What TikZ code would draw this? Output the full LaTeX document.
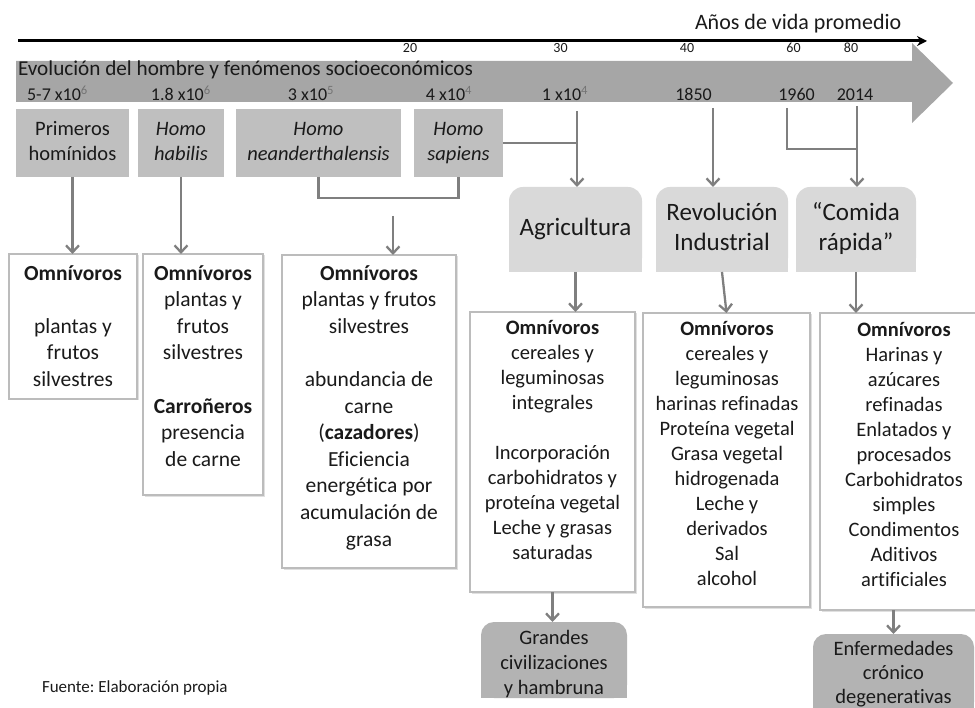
\documentclass[tikz,border=0pt]{standalone}
\usepackage{fontspec}
\setmainfont{Carlito}[Ligatures=NoCommon]
\frenchspacing
\usetikzlibrary{arrows.meta,shadows,backgrounds}
\definecolor{bandgray}{HTML}{A6A6A6}
\definecolor{topgray}{HTML}{BFBFBF}
\definecolor{midgray}{HTML}{D9D9D9}
\definecolor{botgray}{HTML}{B3B3B3}
\definecolor{arrgray}{HTML}{7F7F7F}
\definecolor{boxline}{HTML}{BCBCBC}
\definecolor{txt}{HTML}{1A1A1A}
\newcommand{\mysup}[1]{\textsuperscript{\color{black!55}#1}}
\tikzset{
  every node/.style={inner sep=0pt, outer sep=0pt, text=txt},
  fbody/.style={font=\fontsize{20.5}{25}\selectfont, align=center},
  fleft/.style={font=\fontsize{21.5}{26.6}\selectfont, align=center},
  fmid/.style={font=\fontsize{25}{30}\selectfont, align=center},
  fdate/.style={font=\fontsize{18}{22}\selectfont},
  fsmall/.style={font=\fontsize{14}{17}\selectfont},
  topbox/.style={fill=topgray, minimum height=68pt, fbody},
  midbox/.style={minimum height=85pt, fmid},
  wbox/.style={draw=boxline, line width=1.3pt, fill=white,
    drop shadow={shadow xshift=1.5pt, shadow yshift=-1.5pt, fill=black, opacity=0.12}},
  conn/.style={draw=arrgray, line width=2.3pt},
  arr/.style={conn, -{Straight Barb[length=7pt,width=13pt]}},
}
\begin{document}
\begin{tikzpicture}[x=1pt,y=-1pt]
\useasboundingbox (0,0) rectangle (975,708);
\clip (0,0) rectangle (975,708);

% top timeline arrow
\coordinate (ta) at (18,41);
\coordinate (tb) at (927,41);
\draw[line width=3pt, -{Stealth[length=10pt,width=10pt]}] (ta) -- (tb);
\node[anchor=base west, font=\fontsize{22}{26}\selectfont] (anos) at (695,30) {Años de vida promedio};
\node[fsmall, anchor=base] (n20) at (410,52.7) {20};
\node[fsmall, anchor=base] (n30) at (560.5,52.7) {30};
\node[fsmall, anchor=base] (n40) at (687,52.7) {40};
\node[fsmall, anchor=base] (n60) at (793.5,52.7) {60};
\node[fsmall, anchor=base] (n80) at (851,52.7) {80};

% gray band arrow
\fill[bandgray] (16,61) -- (912,61) -- (912,43) -- (953,83) -- (912,123) -- (912,102) -- (16,102) -- cycle;
\node[anchor=base west, font=\fontsize{21.2}{26}\selectfont] (evo) at (18,75.7) {Evolución del hombre y fenómenos socioeconómicos};
\node[fdate, anchor=base] (d1) at (57.5,100.9) {5-7 x10\mysup{6}};
\node[fdate, anchor=base] (d2) at (180.8,100.9) {1.8 x10\mysup{6}};
\node[fdate, anchor=base] (d3) at (311,100.9) {3 x10\mysup{5}};
\node[fdate, anchor=base] (d4) at (449,100.9) {4 x10\mysup{4}};
\node[fdate, anchor=base] (d5) at (565,100.9) {1 x10\mysup{4}};
\node[fdate, anchor=base] (d6) at (693.5,100.9) {1850};
\node[fdate, anchor=base] (d7) at (796.5,100.9) {1960};
\node[fdate, anchor=base] (d8) at (855,100.9) {2014};

% top gray boxes
\node[topbox, minimum width=113pt] (prim) at (72.5,143) {\strut Primeros\\homínidos\strut};
\node[topbox, minimum width=86pt] (hab) at (181,143) {\strut\textit{Homo}\\\textit{habilis}\strut};
\node[topbox, minimum width=165pt] (nea) at (318.5,143) {\strut\textit{Homo}\\\textit{neanderthalensis}\strut};
\node[topbox, minimum width=89pt] (sap) at (458.5,143) {\strut\textit{Homo}\\\textit{sapiens}\strut};

% middle rounded boxes
\node[midbox, minimum width=133pt] (agr) at (575.5,229.5) {\strut Agricultura};
\node[midbox, minimum width=132pt] (rev) at (722,229.5) {\strut Revolución\\Industrial\strut};
\node[midbox, minimum width=120pt] (com) at (856,229.5) {\strut “Comida\\rápida”\strut};

% bottom white boxes
\node[wbox, minimum width=128pt, minimum height=145pt] (b1) at (73,326.5) {};
\node[wbox, minimum width=120pt, minimum height=241pt] (b2) at (203,374.5) {};
\node[wbox, minimum width=174pt, minimum height=313pt] (b3) at (369,411.5) {};
\node[wbox, minimum width=165pt, minimum height=280pt] (b4) at (552.5,452) {};
\node[wbox, minimum width=167pt, minimum height=294pt] (b5) at (726.5,460) {};
\node[wbox, minimum width=168pt, minimum height=297pt] (b6) at (904,461.5) {};

\node[fleft, anchor=north] (b1t) at (73,261.4) {\strut\textbf{Omnívoros}\\[\baselineskip]plantas y\\frutos\\silvestres};
\node[fleft, anchor=north] (b2t) at (203,261.4) {\strut\textbf{Omnívoros}\\plantas y\\frutos\\silvestres\\[\baselineskip]\textbf{Carroñeros}\\presencia\\de carne};
\node[fleft, anchor=north] (b3t) at (369,261.4) {\strut\textbf{Omnívoros}\\plantas y frutos\\silvestres\\[\baselineskip]abundancia de\\carne\\(\textbf{cazadores})\\Eficiencia\\energética por\\acumulación de\\grasa};
\node[fbody, anchor=north] (b4t) at (552.5,317.3) {\strut\textbf{Omnívoros}\\cereales y\\leguminosas\\integrales\\[\baselineskip]Incorporación\\carbohidratos y\\proteína vegetal\\Leche y grasas\\saturadas};
\node[fbody, anchor=north] (b5t) at (727,318.3) {\strut\textbf{Omnívoros}\\cereales y\\leguminosas\\harinas refinadas\\Proteína vegetal\\Grasa vegetal\\hidrogenada\\Leche y\\derivados\\Sal\\alcohol};
\node[fbody, anchor=north] (b6t) at (904,319.3) {\strut\textbf{Omnívoros}\\Harinas y\\azúcares\\refinadas\\Enlatados y\\procesados\\Carbohidratos\\simples\\Condimentos\\Aditivos\\artificiales};

% bottom gray result boxes
\node[minimum width=146pt, minimum height=76pt] (gc) at (554,660) {};
\node[minimum width=161pt, minimum height=81pt] (enf) at (893.5,674.5) {};

\begin{pgfonlayer}{background}
  \foreach \n in {agr,rev,com}{
    \fill[midgray, rounded corners=14pt] (\n.south west) rectangle (\n.north east);
    \fill[midgray] (\n.south west) rectangle (\n.east);
  }
  \foreach \n in {gc,enf}{
    \fill[botgray, rounded corners=13pt] (\n.south west) rectangle (\n.north east);
    \fill[botgray] (\n.south west) rectangle (\n.east);
  }
\end{pgfonlayer}

\node[fbody, anchor=north] (gct) at (554,626.5) {\strut Grandes\\civilizaciones\\y hambruna};
\node[font=\fontsize{20.5}{24}\selectfont, align=center, anchor=north] (enft) at (893.5,639) {\strut Enfermedades\\crónico\\degenerativas};

% connectors
\draw[arr] (prim.south) -- (prim.south |- b1.north);
\draw[arr] (hab.south) -- (hab.south |- b2.north);
\draw[conn] (nea.south) -- ++(0,21) -| (sap.south);
\coordinate (brk) at (393,216);
\draw[arr] (brk) -- (brk |- b3.north);
\coordinate (t1) at (577,111);
\draw[conn] (sap.east) -- (t1 |- sap.east);
\draw[arr] (t1) -- (t1 |- agr.north);
\coordinate (t2) at (713,108);
\draw[arr] (t2) -- (t2 |- rev.north);
\coordinate (t3) at (787,108);
\coordinate (t3b) at (787,149);
\coordinate (t4) at (857,106);
\draw[conn] (t3) -- (t3b) -- (t3b -| t4);
\draw[arr] (t4) -- (t4 |- com.north);
\draw[arr] (agr.south) -- (agr.south |- b4.north);
\draw[arr] (rev.south) -- (b5.north);
\draw[arr] (com.south) -- (com.south |- b6.north);
\draw[arr] (b4.south) -- (b4.south |- gc.north);
\draw[arr] (enf.north |- b6.south) -- (enf.north);

% source
\node[anchor=base west, font=\fontsize{17}{20}\selectfont] (fuente) at (42,692) {Fuente: Elaboración propia};
\end{tikzpicture}
\end{document}
